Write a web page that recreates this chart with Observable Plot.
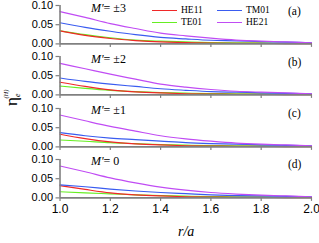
<!DOCTYPE html>
<html>
<head>
<meta charset="utf-8">
<script src="https://cdn.jsdelivr.net/npm/d3@7"></script>
<script src="https://cdn.jsdelivr.net/npm/@observablehq/plot@0.6"></script>
<style>
  html, body { margin: 0; padding: 0; background: white; }
  #chart { position: relative; width: 319px; height: 243px; background: white; overflow: hidden; }
  #chart svg.p { position: absolute; left: 0; }
  .lab { position: absolute; font-family: "Liberation Serif", "Times New Roman", serif; white-space: nowrap; line-height: 1; color: #000; }
  .leg { position: absolute; height: 0; border-top: 1.2px solid; }
</style>
</head>
<body>
<div id="chart"></div>
<script>
// ---- data ----
const r = [1.0, 1.1, 1.2, 1.3, 1.4, 1.5, 1.6, 1.7, 1.8, 1.9, 2.0];
const xTicks = [1.0, 1.2, 1.4, 1.6, 1.8, 2.0];
const yTicks = [0, 0.05, 0.10];
const modes = ["HE11", "TM01", "TE01", "HE21"];
const modeColors = ["#f02828", "#3a5cf0", "#66ee22", "#c04cf4"];
const panelLabels = ["(a)", "(b)", "(c)", "(d)"];
const mValues = ["±3", "±2", "±1", "0"];

// panel (a) M' = ±3
const a_HE11 = [0.034, 0.022, 0.014, 0.0086, 0.005, 0.0035, 0.002, 0.0015, 0.0012, 0.0008, 0.0005];
const a_TM01 = [0.055, 0.043, 0.033, 0.024, 0.017, 0.013, 0.0095, 0.008, 0.006, 0.0045, 0.003];
const a_TE01 = [0.034, 0.024, 0.016, 0.010, 0.007, 0.005, 0.0035, 0.003, 0.0025, 0.002, 0.0015];
const a_HE21 = [0.084, 0.069, 0.053, 0.040, 0.028, 0.021, 0.015, 0.010, 0.007, 0.005, 0.003];
// panel (b) M' = ±2
const b_HE11 = [0.033, 0.022, 0.013, 0.008, 0.005, 0.003, 0.002, 0.0015, 0.0012, 0.0008, 0.0005];
const b_TM01 = [0.044, 0.035, 0.028, 0.022, 0.016, 0.012, 0.0086, 0.007, 0.0055, 0.004, 0.003];
const b_TE01 = [0.023, 0.017, 0.012, 0.0086, 0.006, 0.0045, 0.0035, 0.003, 0.0025, 0.002, 0.0015];
const b_HE21 = [0.082, 0.068, 0.054, 0.041, 0.028, 0.020, 0.014, 0.0095, 0.007, 0.005, 0.003];
// panel (c) M' = ±1
const c_HE11 = [0.033, 0.0216, 0.013, 0.008, 0.005, 0.003, 0.002, 0.0015, 0.0012, 0.0008, 0.0005];
const c_TM01 = [0.037, 0.029, 0.023, 0.019, 0.015, 0.011, 0.0086, 0.007, 0.0055, 0.004, 0.003];
const c_TE01 = [0.018, 0.0147, 0.011, 0.0086, 0.006, 0.0045, 0.0035, 0.003, 0.0025, 0.002, 0.0015];
const c_HE21 = [0.083, 0.068, 0.0535, 0.041, 0.029, 0.021, 0.015, 0.010, 0.007, 0.005, 0.003];
// panel (d) M' = 0
const d_HE11 = [0.032, 0.022, 0.013, 0.008, 0.005, 0.003, 0.002, 0.0015, 0.0012, 0.0008, 0.0005];
const d_TM01 = [0.034, 0.029, 0.023, 0.018, 0.014, 0.011, 0.008, 0.006, 0.005, 0.004, 0.003];
const d_TE01 = [0.016, 0.013, 0.0106, 0.008, 0.006, 0.0045, 0.0035, 0.003, 0.0025, 0.002, 0.0015];
const d_HE21 = [0.083, 0.068, 0.052, 0.039, 0.028, 0.020, 0.014, 0.010, 0.007, 0.005, 0.003];

const panels = [
  [a_HE11, a_TM01, a_TE01, a_HE21],
  [b_HE11, b_TM01, b_TE01, b_HE21],
  [c_HE11, c_TM01, c_TE01, c_HE21],
  [d_HE11, d_TM01, d_TE01, d_HE21]
];

// ---- layout ----
const W = 319;
const panelTops = [5.2, 56, 107.5, 158.5];
const panelH = 38.4;
const mt = 4;
const axisGray = "#808080";
const chart = document.getElementById("chart");

panels.forEach((series, pi) => {
  const last = pi === panels.length - 1;
  const mb = last ? 22 : 6;
  const drawOrder = [2, 0, 1, 3]; // TE01, HE11, TM01, HE21
  const lineMarks = drawOrder.map(k =>
    Plot.line(series[k], {
      x: (d, i) => r[i], y: d => d,
      stroke: modeColors[k], strokeWidth: 1.2, curve: "monotone-x"
    })
  );
  const svg = Plot.plot({
    width: W,
    height: mt + panelH + mb,
    marginTop: mt,
    marginBottom: mb,
    marginLeft: 59.5,
    marginRight: 8,
    x: { domain: [1, 2] },
    y: { domain: [0, 0.1] },
    style: { background: "transparent", fontFamily: "'Liberation Sans', Arial, sans-serif", fontSize: "11px", overflow: "visible", color: "black" },
    marks: [
      ...lineMarks,
      Plot.axisY({ ticks: yTicks, tickFormat: d3.format(".2f"), tickSize: 4, tickPadding: 3, stroke: axisGray, strokeWidth: 1.2, fill: "black", fontSize: 11, label: null }),
      Plot.axisX({ ticks: xTicks, tickSize: 3.5, tickPadding: 3, tickFormat: last ? d3.format(".1f") : () => "", stroke: axisGray, strokeWidth: 1.2, fill: "black", fontSize: 12, label: null }),
      Plot.ruleY([0], { stroke: axisGray, strokeWidth: 1.6 }),
      Plot.ruleX([1], { stroke: axisGray, strokeWidth: 1.6 })
    ]
  });
  svg.classList.add("p");
  svg.style.top = (panelTops[pi] - mt) + "px";
  chart.appendChild(svg);

  // M' label
  const m = document.createElement("div");
  m.className = "lab";
  m.style.left = "91px";
  m.style.top = (panelTops[pi] - 3.5) + "px";
  m.style.fontSize = "12px";
  m.innerHTML = "<i>M'</i>= " + mValues[pi];
  chart.appendChild(m);

  // panel letter
  const p = document.createElement("div");
  p.className = "lab";
  p.style.left = "288px";
  p.style.top = (panelTops[pi] + 0.5) + "px";
  p.style.fontSize = "11.5px";
  p.textContent = panelLabels[pi];
  chart.appendChild(p);
});

// legend
const legPos = [[152, 11], [217, 11], [152, 22.7], [217, 22.7]];
modes.forEach((name, k) => {
  const [lx, ly] = legPos[k];
  const l = document.createElement("div");
  l.className = "leg";
  l.style.left = lx + "px";
  l.style.top = (ly - 0.6) + "px";
  l.style.width = "25px";
  l.style.borderTopColor = modeColors[k];
  chart.appendChild(l);
  const t = document.createElement("div");
  t.className = "lab";
  t.style.left = (lx + 29) + "px";
  t.style.top = (ly - 5) + "px";
  t.style.fontSize = "9.5px";
  t.textContent = name;
  chart.appendChild(t);
});

// x label
const xl = document.createElement("div");
xl.className = "lab";
xl.style.left = "178px";
xl.style.top = "225px";
xl.style.fontSize = "14px";
xl.innerHTML = "<i>r/a</i>";
chart.appendChild(xl);

// y label (rotated)
const ov = d3.create("svg").attr("width", W).attr("height", 243)
  .style("position", "absolute").style("left", 0).style("top", 0).style("pointer-events", "none");
const yt = ov.append("text")
  .attr("transform", "translate(17,106) rotate(-90)")
  .attr("font-family", "'Liberation Serif', 'Times New Roman', serif")
  .attr("font-size", 17);
yt.append("tspan").text("η");
yt.append("tspan").attr("font-size", 8).attr("font-style", "italic").attr("dy", 3).text("e");
yt.append("tspan").attr("font-size", 6.5).attr("font-style", "italic").attr("dx", -5).attr("dy", -12).text("(H)");
chart.appendChild(ov.node());
</script>
</body>
</html>
